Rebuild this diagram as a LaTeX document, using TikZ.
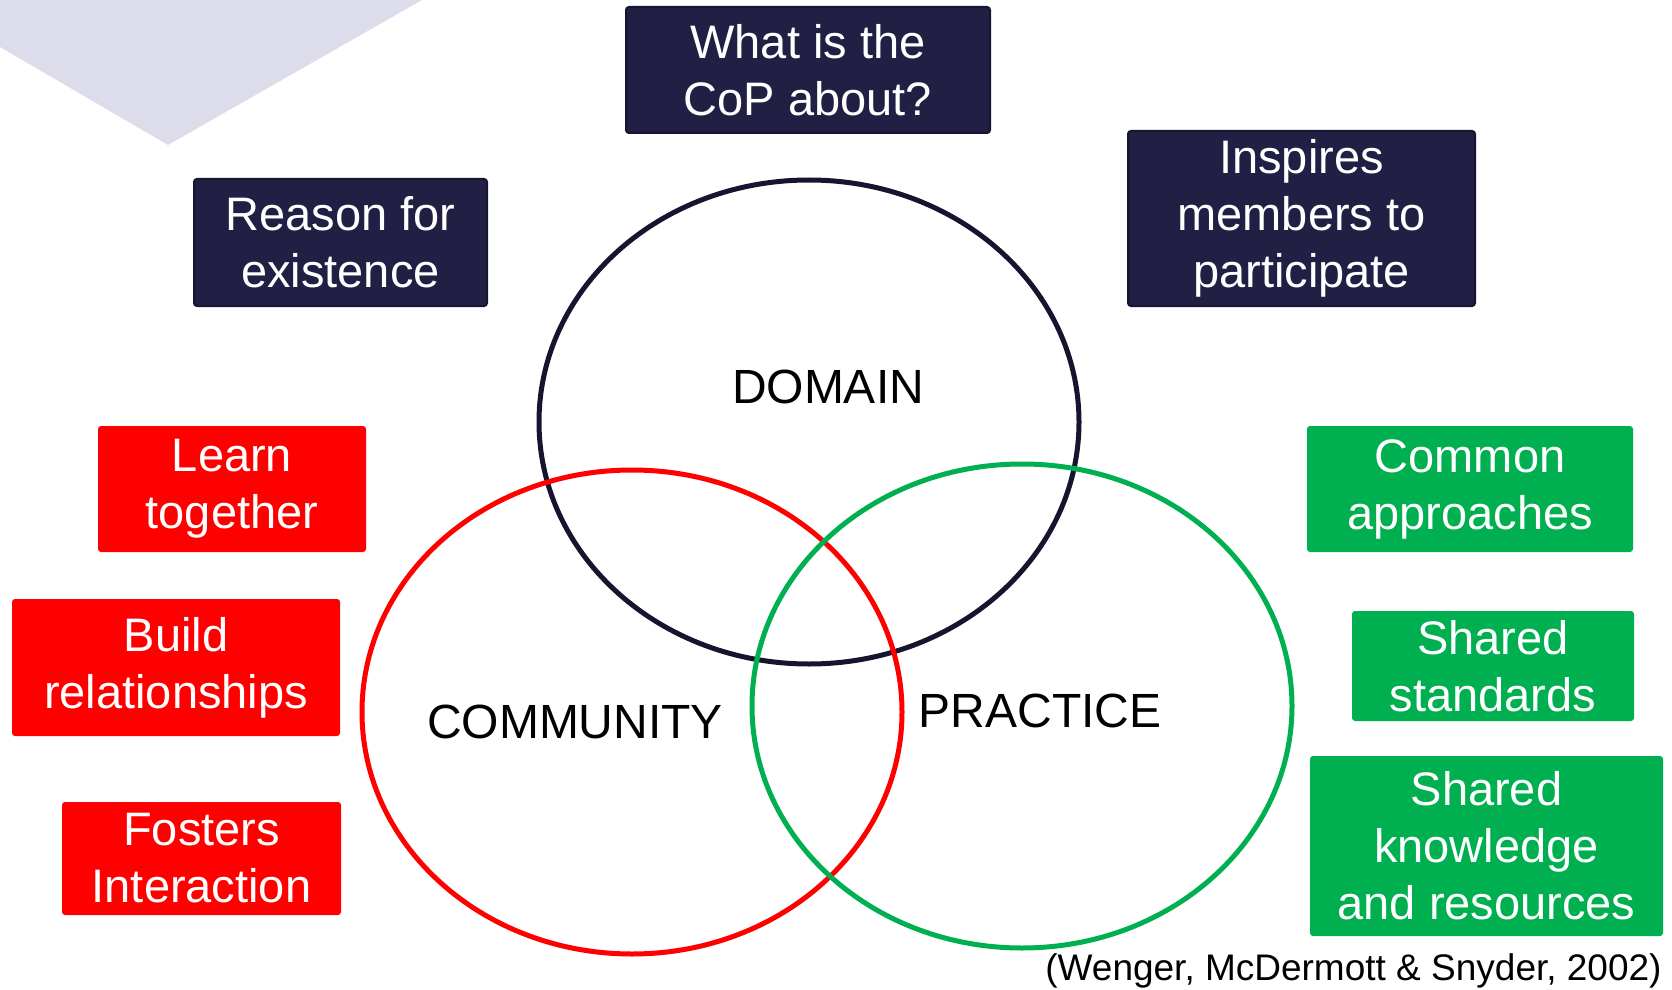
\documentclass[tikz,border=0pt]{standalone}
\usepackage{fontspec}
\setmainfont{Liberation Sans}
\usepackage{xcolor}
\usetikzlibrary{calc}
\definecolor{copnavy}{HTML}{211F44}
\definecolor{copnavyline}{HTML}{15152F}
\definecolor{copred}{HTML}{FF0000}
\definecolor{copgreen}{HTML}{00B050}
\definecolor{coplavender}{HTML}{DCDCEB}

\begin{document}
\begin{tikzpicture}[x=0.5pt,y=-0.5pt,
        copbox/.style={rectangle, rounded corners=1.5pt, inner sep=0pt, align=center,
            text=white, font=\fontsize{23.5}{28.5}\selectfont},
        domainbox/.style={copbox, fill=copnavy, draw=copnavyline, line width=1pt},
        communitybox/.style={copbox, fill=copred},
        practicebox/.style={copbox, fill=copgreen},
        ringlabel/.style={anchor=base, inner sep=0pt, font=\fontsize{24}{28}\selectfont}]
        \newcommand{\coprx}{135pt}
        \newcommand{\copry}{121pt}
        \newcommand{\copringwidth}{2.5pt}
        \useasboundingbox (0,0) rectangle (1672,990);
        \fill[coplavender] (0,0) -- (422,0) -- (168,145) -- (0,47) -- cycle;
        \draw[copnavyline, line width=\copringwidth] (809,422) ellipse [x radius=\coprx, y radius=\copry];
        \draw[copred, line width=\copringwidth] (632,712) ellipse [x radius=\coprx, y radius=\copry];
        \draw[copgreen, line width=\copringwidth] (1022,706) ellipse [x radius=\coprx, y radius=\copry];
        \node[ringlabel] (domain) at (828,403) {DOMAIN};
        \node[ringlabel] (community) at (575,738) {COMMUNITY};
        \node[ringlabel] (practice) at (1040,727) {PRACTICE};
        \node[domainbox, minimum width=182pt, minimum height=63pt] (about) at (808,70) {What is the\\CoP about?};
        \node[domainbox, minimum width=146.5pt, minimum height=63.5pt] (reason) at (340.5,242.5) {Reason for\\existence};
        \node[domainbox, minimum width=173.5pt, minimum height=87.5pt] (inspires) at (1301.5,218.5) {Inspires\\members to\\participate};
        \node[communitybox, minimum width=134pt, minimum height=63pt] (learn) at (232,489) {Learn\\together};
        \node[communitybox, minimum width=164pt, minimum height=68.5pt] (build) at (176,667.5) {Build\\relationships};
        \node[communitybox, minimum width=139.5pt, minimum height=56.5pt] (fosters) at (201.5,858.5) {Fosters\\Interaction};
        \node[practicebox, minimum width=163pt, minimum height=63pt] (common) at (1470,489) {Common\\approaches};
        \node[practicebox, minimum width=141pt, minimum height=55pt] (standards) at (1493,666) {Shared\\standards};
        \node[practicebox, minimum width=176.5pt, minimum height=90pt] (knowledge) at (1486.5,846) {Shared\\knowledge\\and resources};
        \node[anchor=base east, inner sep=0pt, font=\fontsize{18.5}{22}\selectfont] (source) at (1662,980) {(Wenger, McDermott \& Snyder, 2002)};
\end{tikzpicture}
\end{document}
